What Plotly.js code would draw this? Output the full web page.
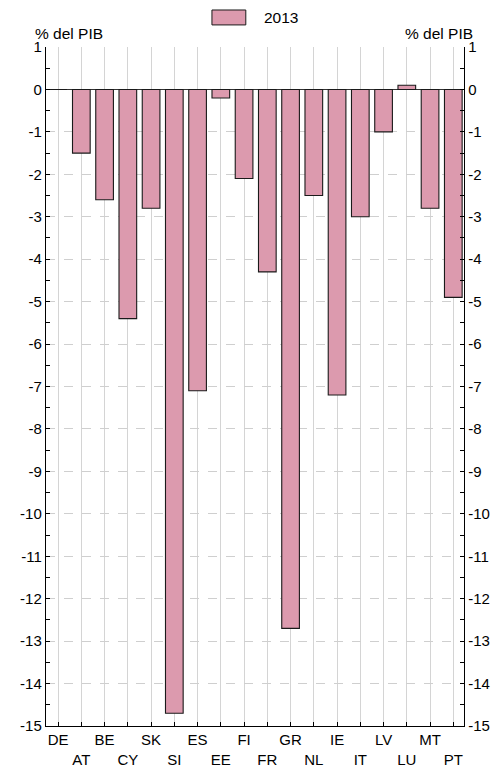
<!DOCTYPE html>
<html>
<head>
<meta charset="utf-8">
<script src="https://cdn.plot.ly/plotly-3.0.1.min.js"></script>
<style>html,body{margin:0;padding:0;background:#fff;}#chart{width:502px;height:768px;}</style>
</head>
<body>
<div id="chart"></div>
<script>
var countries = ["DE","AT","BE","CY","SK","SI","ES","EE","FI","FR","GR","NL","IE","IT","LV","LU","MT","PT"];
var values2013 = [0, -1.5, -2.6, -5.4, -2.8, -14.7, -7.1, -0.2, -2.1, -4.3, -12.7, -2.5, -7.2, -3.0, -1.0, 0.1, -2.8, -4.9];
var seriesName = "2013";
var unitLabel = "% del PIB";
var yTicks = [1,0,-1,-2,-3,-4,-5,-6,-7,-8,-9,-10,-11,-12,-13,-14,-15];

var idx = countries.map(function(c,i){return i;});
var tickText = countries.map(function(c,i){return i%2===0 ? c : "<br>"+c;});
var font = {family:"Liberation Sans, Arial, sans-serif", size:15, color:"#000"};
var bigFont = {family:"Liberation Sans, Arial, sans-serif", size:15.5, color:"#000"};
var barColor = "#dc9aae";

var trace = {
  type:"bar", x:idx, y:values2013, name:seriesName, width:0.76,
  marker:{color:barColor, line:{color:"#1a1a1a", width:1.1}},
  showlegend:false, hoverinfo:"none"
};

var yCommon = {
  range:[-15,1], tickvals:yTicks, ticktext:yTicks.map(String),
  ticks:"inside", ticklen:4, tickcolor:"#000", tickwidth:1,
  minor:{dtick:0.5, tick0:0, ticks:"inside", ticklen:4, tickcolor:"#000", showgrid:false},
  showline:true, linecolor:"#000", linewidth:1.2,
  tickfont:font, fixedrange:true
};

var layout = {
  width:502, height:768,
  margin:{l:46, r:38, t:47, b:42},
  paper_bgcolor:"#fff", plot_bgcolor:"#fff",
  font:font,
  bargap:0,
  xaxis:{
    range:[-0.52,17.46], tickvals:idx, ticktext:tickText,
    ticks:"inside", ticklen:4, tickcolor:"#000",
    showgrid:true, gridcolor:"#d4d4d4", gridwidth:1,
    showline:true, linecolor:"#000", linewidth:1.2,
    zeroline:false, tickfont:font, tickangle:0, fixedrange:true
  },
  yaxis:Object.assign({}, yCommon, {
    side:"left", showgrid:true, gridcolor:"#cfcfcf", griddash:"dash", gridwidth:1,
    zeroline:true, zerolinecolor:"#333", zerolinewidth:1.2
  }),
  yaxis2:Object.assign({}, yCommon, {
    side:"right", overlaying:"y", showgrid:false, zeroline:false
  }),
  shapes:[
    {type:"rect", xref:"paper", yref:"paper", x0:0.397, x1:0.478, y0:1.0325, y1:1.0545,
     fillcolor:barColor, line:{color:"#1a1a1a", width:1}}
  ],
  annotations:[
    {text:seriesName, xref:"paper", yref:"paper", x:0.517, y:1.0435, xanchor:"left", yanchor:"middle", showarrow:false, font:bigFont},
    {text:unitLabel, xref:"paper", yref:"paper", x:0.054, y:1.0205, xanchor:"center", yanchor:"middle", showarrow:false, font:bigFont},
    {text:unitLabel, xref:"paper", yref:"paper", x:0.94, y:1.0205, xanchor:"center", yanchor:"middle", showarrow:false, font:bigFont}
  ]
};

var trace2 = {type:"scatter", x:[], y:[], yaxis:"y2", showlegend:false, hoverinfo:"none"};

Plotly.newPlot("chart", [trace, trace2], layout, {staticPlot:true, displayModeBar:false});
</script>
</body>
</html>
